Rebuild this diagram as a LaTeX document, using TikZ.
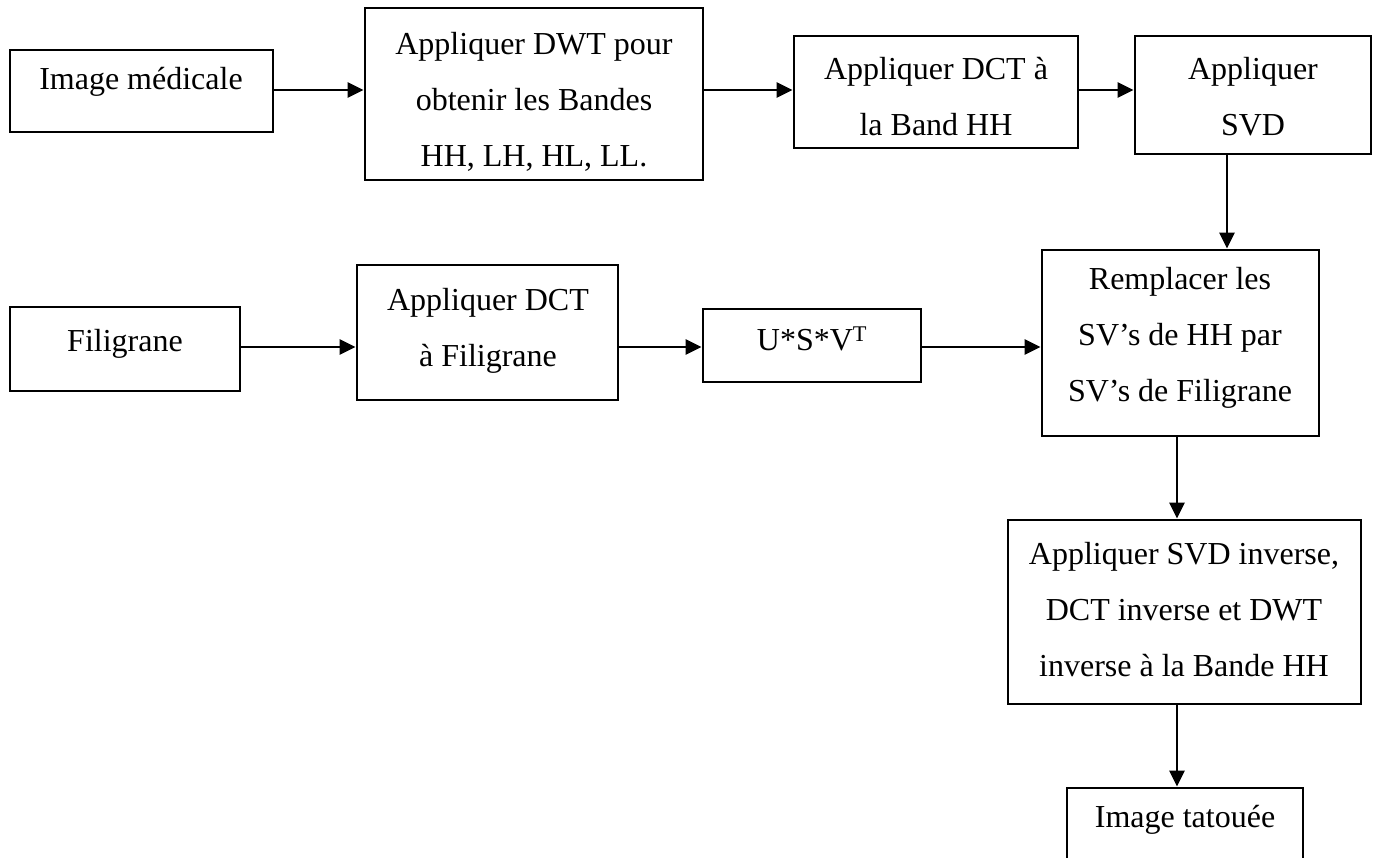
\documentclass[tikz,border=0pt]{standalone}
\usepackage{fontspec}
\setmainfont{Liberation Serif}
\usetikzlibrary{arrows.meta,calc}
\begin{document}
\begin{tikzpicture}[x=1pt,y=-1pt,
  box/.style={draw=black,line width=2.9pt,inner sep=0pt,fill=white},
  txt/.style={align=center,inner sep=0pt,font=\fontsize{32}{56}\selectfont},
  arr/.style={line width=2.9pt,-{Triangle[length=16pt,width=15pt]}}]
\useasboundingbox (0,0) rectangle (1375,858);
\clip (0,0) rectangle (1375,858);
% boxes: name, x1, y1, x2, y2
\newcommand{\mkbox}[5]{\node[box,minimum width={#4-#2},minimum height={#5-#3}] (#1) at ({(#2+#4)/2},{(#3+#5)/2}) {};}
\mkbox{med}{10}{50}{273}{132}
\mkbox{dwt}{365}{8}{703}{180}
\mkbox{dct}{794}{36}{1078}{148}
\mkbox{svd}{1135}{36}{1371}{154}
\mkbox{rep}{1042}{250}{1319}{436}
\mkbox{fil}{10}{307}{240}{391}
\mkbox{dctf}{357}{265}{618}{400}
\mkbox{usv}{703}{309}{921}{382}
\mkbox{inv}{1008}{520}{1361}{704}
\mkbox{tat}{1067}{788}{1303}{900}
% texts
\node[txt] (tmed) at (141,82) {Image médicale};
\node[txt] (tdwt) at (534,102) {Appliquer DWT pour\\obtenir les Bandes\\HH, LH, HL, LL.};
\node[txt] (tdct) at (936,97) {Appliquer DCT à\\la Band HH};
\node[txt] (tsvd) at (1253,97) {Appliquer\\SVD};
\node[txt] (trep) at (1180,338) {Remplacer les\\SV’s de HH par\\SV’s de Filigrane};
\node[txt] (tfil) at (125,344) {Filigrane};
\node[txt] (tdctf) at (488,331) {Appliquer DCT\\à Filigrane};
\node[txt] (tusv) at (812,339) {U*S*V\textsuperscript{T}};
\node[txt] (tinv) at (1184,610) {Appliquer SVD inverse,\\DCT inverse et DWT\\inverse à la Bande HH};
\node[txt] (ttat) at (1185,820) {Image tatouée};
% connectors
\coordinate (xa) at (1227,0);
\coordinate (xb) at (1177,0);
\coordinate (ya) at (0,90);
\coordinate (yb) at (0,347);
\draw[arr] (med.east |- ya) -- (dwt.west |- ya);
\draw[arr] (dwt.east |- ya) -- (dct.west |- ya);
\draw[arr] (dct.east |- ya) -- (svd.west |- ya);
\draw[arr] (svd.south -| xa) -- (rep.north -| xa);
\draw[arr] (fil.east |- yb) -- (dctf.west |- yb);
\draw[arr] (dctf.east |- yb) -- (usv.west |- yb);
\draw[arr] (usv.east |- yb) -- (rep.west |- yb);
\draw[arr] (rep.south -| xb) -- (inv.north -| xb);
\draw[arr] (inv.south -| xb) -- (tat.north -| xb);
\end{tikzpicture}
\end{document}
